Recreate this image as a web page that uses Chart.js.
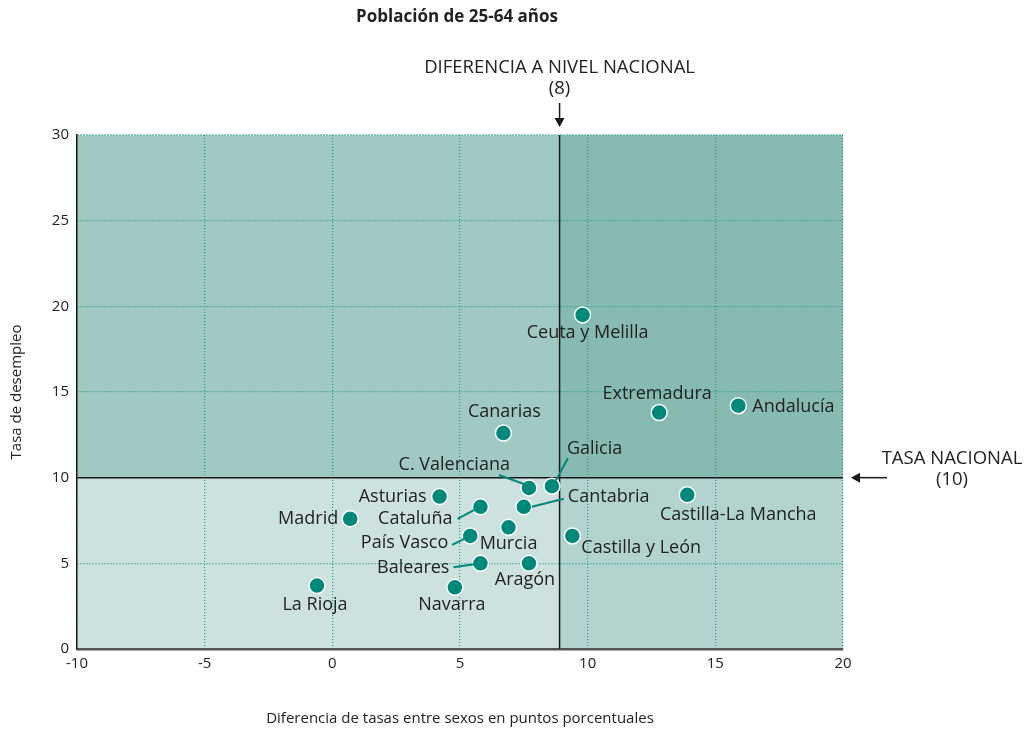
<!DOCTYPE html>
<html>

<head>
    <meta charset="UTF-8">
    <title>Población de 25-64 años</title>
    <script src="https://cdn.jsdelivr.net/npm/chart.js"></script>
    <style>
        body { margin: 0; background: #fff; }
    </style>
</head>

<body>
    <canvas id="unemploymentChart" width="1030" height="733"></canvas>

    <script>
        // data
        const regions = ["Ceuta y Melilla", "Extremadura", "Andalucía", "Canarias", "Galicia",
            "C. Valenciana", "Asturias", "Castilla-La Mancha", "Cataluña", "Cantabria", "Madrid",
            "Murcia", "País Vasco", "Castilla y León", "Baleares", "Aragón", "La Rioja", "Navarra"];
        const genderGap = [9.8, 12.8, 15.9, 6.7, 8.6, 7.7, 4.2, 13.9, 5.8, 7.5, 0.7,
            6.9, 5.4, 9.4, 5.8, 7.7, -0.6, 4.8];
        const unemploymentRate = [19.5, 13.8, 14.2, 12.6, 9.5, 9.4, 8.9, 9.0, 8.3, 8.3, 7.6,
            7.1, 6.6, 6.6, 5.0, 5.0, 3.7, 3.6];
        const xTicks = [-10, -5, 0, 5, 10, 15, 20];
        const yTicks = [0, 5, 10, 15, 20, 25, 30];
        const nationalGap = 8.9;
        const nationalRate = 10;

        // label placement around each dot (pixels), leader lines where needed
        const labelPos = {
            "Ceuta y Melilla": { dx: 5, dy: 18, align: "center" },
            "Extremadura": { dx: -2, dy: -19, align: "center" },
            "Andalucía": { dx: 14, dy: 1, align: "left" },
            "Canarias": { dx: 1, dy: -21, align: "center" },
            "Galicia": { dx: 15, dy: -37, align: "left", line: [4, -6, 16, -28] },
            "C. Valenciana": { dx: -19, dy: -23, align: "right", line: [-30, -13, -5, -4] },
            "Asturias": { dx: -13, dy: 0, align: "right" },
            "Castilla-La Mancha": { dx: 51, dy: 20, align: "center" },
            "Cataluña": { dx: -28, dy: 12, align: "right", line: [-23, 12, -6, 3] },
            "Cantabria": { dx: 44, dy: -10, align: "left", line: [8, 0, 40, -8] },
            "Madrid": { dx: -12, dy: 0, align: "right" },
            "Murcia": { dx: 0, dy: 17, align: "center" },
            "País Vasco": { dx: -22, dy: 7, align: "right", line: [-18, 9, -6, 3] },
            "Castilla y León": { dx: 9, dy: 12, align: "left" },
            "Baleares": { dx: -31, dy: 5, align: "right", line: [-27, 4, -6, 1] },
            "Aragón": { dx: -4, dy: 17, align: "center" },
            "La Rioja": { dx: -2, dy: 19, align: "center" },
            "Navarra": { dx: -3, dy: 18, align: "center" }
        };

        const TEAL = "#00897a";
        const GRID = "#1f9c8c";
        const TEXT = "#222";
        const FONT = "'Open Sans', 'Noto Sans', sans-serif";

        const arrow = (ctx, x1, y1, x2, y2) => {
            const a = Math.atan2(y2 - y1, x2 - x1);
            ctx.beginPath();
            ctx.moveTo(x1, y1);
            ctx.lineTo(x2 - 8 * Math.cos(a), y2 - 8 * Math.sin(a));
            ctx.stroke();
            ctx.beginPath();
            ctx.moveTo(x2, y2);
            ctx.lineTo(x2 - 9 * Math.cos(a) + 5 * Math.sin(a), y2 - 9 * Math.sin(a) - 5 * Math.cos(a));
            ctx.lineTo(x2 - 9 * Math.cos(a) - 5 * Math.sin(a), y2 - 9 * Math.sin(a) + 5 * Math.cos(a));
            ctx.closePath();
            ctx.fill();
        };

        const quadrants = {
            id: "quadrants",
            beforeDraw(chart) {
                const { ctx, chartArea: a, scales: { x, y } } = chart;
                const cx = x.getPixelForValue(nationalGap);
                const cy = y.getPixelForValue(nationalRate);
                ctx.save();
                ctx.fillStyle = "#fff";
                ctx.fillRect(0, 0, chart.width, chart.height);
                ctx.fillStyle = "#a1c9c3"; ctx.fillRect(a.left, a.top, cx - a.left, cy - a.top);
                ctx.fillStyle = "#87bab1"; ctx.fillRect(cx, a.top, a.right - cx, cy - a.top);
                ctx.fillStyle = "#cde1de"; ctx.fillRect(a.left, cy, cx - a.left, a.bottom - cy);
                ctx.fillStyle = "#b3d4ce"; ctx.fillRect(cx, cy, a.right - cx, a.bottom - cy);
                ctx.restore();
            },
            beforeDatasetsDraw(chart) {
                const { ctx, chartArea: a, scales: { x, y } } = chart;
                const cx = x.getPixelForValue(nationalGap);
                const cy = y.getPixelForValue(nationalRate);
                ctx.save();
                ctx.strokeStyle = "#1a1a1a";
                ctx.fillStyle = "#1a1a1a";
                ctx.lineWidth = 1.5;
                ctx.beginPath();
                ctx.moveTo(cx, a.top); ctx.lineTo(cx, a.bottom);
                ctx.moveTo(a.left, cy); ctx.lineTo(a.right, cy);
                ctx.stroke();
                arrow(ctx, cx, a.top - 32, cx, a.top - 8);
                arrow(ctx, a.right + 44, cy, a.right + 8, cy);

                ctx.fillStyle = TEXT;
                ctx.font = "18.5px " + FONT;
                ctx.textAlign = "center";
                ctx.textBaseline = "middle";
                ctx.fillText("DIFERENCIA A NIVEL NACIONAL", cx, a.top - 67);
                ctx.fillText("(8)", cx, a.top - 46);
                ctx.fillText("TASA NACIONAL", a.right + 109, cy - 19);
                ctx.fillText("(10)", a.right + 109, cy + 2);
                ctx.restore();
            },
            afterDatasetsDraw(chart) {
                const { ctx } = chart;
                const meta = chart.getDatasetMeta(0);
                ctx.save();
                ctx.font = "18px " + FONT;
                ctx.textBaseline = "middle";
                meta.data.forEach((pt, i) => {
                    const p = labelPos[regions[i]];
                    if (p.line) {
                        ctx.strokeStyle = TEAL;
                        ctx.lineWidth = 2;
                        ctx.beginPath();
                        ctx.moveTo(pt.x + p.line[0], pt.y + p.line[1]);
                        ctx.lineTo(pt.x + p.line[2], pt.y + p.line[3]);
                        ctx.stroke();
                    }
                    ctx.fillStyle = TEXT;
                    ctx.textAlign = p.align;
                    ctx.fillText(regions[i], pt.x + p.dx, pt.y + p.dy);
                });
                ctx.font = "bold 17px " + FONT;
                ctx.textAlign = "center";
                ctx.fillText("Población de 25-64 años", 457, 17);
                ctx.restore();
            }
        };

        const points = genderGap.map((g, i) => ({ x: g, y: unemploymentRate[i] }));

        new Chart(document.getElementById("unemploymentChart"), {
            type: "scatter",
            data: {
                datasets: [{
                    data: points,
                    backgroundColor: TEAL,
                    borderColor: "#fff",
                    borderWidth: 1.5,
                    pointRadius: 8,
                    pointHoverRadius: 8
                }]
            },
            options: {
                responsive: false,
                animation: false,
                layout: { padding: { top: 135, right: 187, left: 0, bottom: 0 } },
                plugins: {
                    legend: { display: false },
                    tooltip: { enabled: false }
                },
                scales: {
                    x: {
                        type: "linear",
                        min: -10,
                        max: 20,
                        afterBuildTicks: s => { s.ticks = xTicks.map(v => ({ value: v })); },
                        afterFit: s => { s.height = 84; },
                        ticks: { color: TEXT, font: { family: FONT, size: 15 }, padding: 6 },
                        grid: { color: GRID, lineWidth: 1.2, drawTicks: false },
                        border: { display: true, color: "#555", width: 2.5, dash: [1, 2] },
                        title: {
                            display: true,
                            text: "Diferencia de tasas entre sexos en puntos porcentuales",
                            color: TEXT,
                            font: { family: FONT, size: 15 },
                            padding: { top: 0, bottom: 5 }
                        }
                    },
                    y: {
                        type: "linear",
                        min: 0,
                        max: 30,
                        afterBuildTicks: s => { s.ticks = yTicks.map(v => ({ value: v })); },
                        afterFit: s => { s.width = 77; },
                        ticks: { color: TEXT, font: { family: FONT, size: 15 }, padding: 8 },
                        grid: { color: GRID, lineWidth: 1.2, drawTicks: false },
                        border: { display: true, color: "#1a1a1a", width: 1.5, dash: [1, 2] },
                        title: {
                            display: true,
                            text: "Tasa de desempleo",
                            color: TEXT,
                            font: { family: FONT, size: 15 },
                            padding: { top: 8, bottom: 0 }
                        }
                    }
                }
            },
            plugins: [quadrants]
        });
    </script>
</body>

</html>
